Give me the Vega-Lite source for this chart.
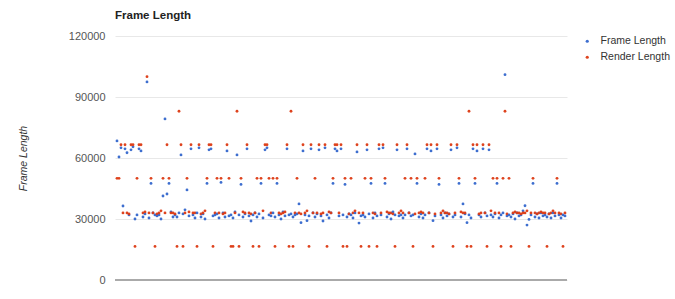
{
"$schema":"https://vega.github.io/schema/vega-lite/v6.json",
"width":452,"height":244,
"autosize":{"type":"none"},
"padding":{"left":115,"top":36,"right":108,"bottom":19},
"background":"white",
"config":{"view":{"stroke":null},"font":"Liberation Sans"},
"title":{"text":"Frame Length","anchor":"start","frame":"group","fontSize":11.5,"fontWeight":"bold","color":"#222","offset":9,"font":"Liberation Sans"},
"data":{"values":[
{"i":0,"Frame Length":68400,"Render Length":50000},
{"i":1,"Frame Length":60500,"Render Length":50000},
{"i":2,"Frame Length":65000,"Render Length":66500},
{"i":3,"Frame Length":36400,"Render Length":33000},
{"i":4,"Frame Length":64500,"Render Length":66500},
{"i":5,"Frame Length":62600,"Render Length":33000},
{"i":6,"Frame Length":32000,"Render Length":32500},
{"i":7,"Frame Length":64000,"Render Length":66500},
{"i":8,"Frame Length":65500,"Render Length":66500},
{"i":9,"Frame Length":30000,"Render Length":16500},
{"i":10,"Frame Length":32000,"Render Length":50000},
{"i":11,"Frame Length":64500,"Render Length":66500},
{"i":12,"Frame Length":63500,"Render Length":66500},
{"i":13,"Frame Length":31000,"Render Length":33000},
{"i":14,"Frame Length":32500,"Render Length":33500},
{"i":15,"Frame Length":97400,"Render Length":100000},
{"i":16,"Frame Length":30500,"Render Length":33000},
{"i":17,"Frame Length":47500,"Render Length":50000},
{"i":18,"Frame Length":33000,"Render Length":33000},
{"i":19,"Frame Length":32000,"Render Length":16500},
{"i":20,"Frame Length":31500,"Render Length":32500},
{"i":21,"Frame Length":32000,"Render Length":33000},
{"i":22,"Frame Length":30000,"Render Length":34000},
{"i":23,"Frame Length":41300,"Render Length":50000},
{"i":24,"Frame Length":79200,"Render Length":33000},
{"i":25,"Frame Length":42300,"Render Length":66500},
{"i":26,"Frame Length":47500,"Render Length":50000},
{"i":27,"Frame Length":33500,"Render Length":33000},
{"i":28,"Frame Length":31000,"Render Length":33000},
{"i":29,"Frame Length":32000,"Render Length":32500},
{"i":30,"Frame Length":31000,"Render Length":16500},
{"i":31,"Frame Length":33000,"Render Length":83000},
{"i":32,"Frame Length":61500,"Render Length":66500},
{"i":33,"Frame Length":32500,"Render Length":16500},
{"i":34,"Frame Length":34500,"Render Length":33000},
{"i":35,"Frame Length":44300,"Render Length":50000},
{"i":36,"Frame Length":31500,"Render Length":33500},
{"i":37,"Frame Length":64500,"Render Length":66500},
{"i":38,"Frame Length":32000,"Render Length":33000},
{"i":39,"Frame Length":30500,"Render Length":33000},
{"i":40,"Frame Length":33000,"Render Length":16500},
{"i":41,"Frame Length":65000,"Render Length":66500},
{"i":42,"Frame Length":31000,"Render Length":32500},
{"i":43,"Frame Length":32500,"Render Length":33000},
{"i":44,"Frame Length":30000,"Render Length":34000},
{"i":45,"Frame Length":47500,"Render Length":50000},
{"i":46,"Frame Length":64000,"Render Length":66500},
{"i":47,"Frame Length":64500,"Render Length":66500},
{"i":48,"Frame Length":31500,"Render Length":16500},
{"i":49,"Frame Length":32000,"Render Length":33000},
{"i":50,"Frame Length":32500,"Render Length":50000},
{"i":51,"Frame Length":30500,"Render Length":33000},
{"i":52,"Frame Length":48000,"Render Length":50000},
{"i":53,"Frame Length":33000,"Render Length":32500},
{"i":54,"Frame Length":31000,"Render Length":33000},
{"i":55,"Frame Length":63500,"Render Length":66500},
{"i":56,"Frame Length":31500,"Render Length":50000},
{"i":57,"Frame Length":32000,"Render Length":16500},
{"i":58,"Frame Length":30500,"Render Length":16500},
{"i":59,"Frame Length":33500,"Render Length":33000},
{"i":60,"Frame Length":61500,"Render Length":83000},
{"i":61,"Frame Length":32000,"Render Length":16500},
{"i":62,"Frame Length":47000,"Render Length":50000},
{"i":63,"Frame Length":31000,"Render Length":33500},
{"i":64,"Frame Length":32500,"Render Length":33000},
{"i":65,"Frame Length":64500,"Render Length":66500},
{"i":66,"Frame Length":31500,"Render Length":33000},
{"i":67,"Frame Length":29000,"Render Length":32500},
{"i":68,"Frame Length":32000,"Render Length":16500},
{"i":69,"Frame Length":33000,"Render Length":33000},
{"i":70,"Frame Length":31000,"Render Length":50000},
{"i":71,"Frame Length":32500,"Render Length":16500},
{"i":72,"Frame Length":47500,"Render Length":50000},
{"i":73,"Frame Length":30500,"Render Length":34000},
{"i":74,"Frame Length":64000,"Render Length":66500},
{"i":75,"Frame Length":65000,"Render Length":66500},
{"i":76,"Frame Length":32000,"Render Length":50000},
{"i":77,"Frame Length":31500,"Render Length":33000},
{"i":78,"Frame Length":33000,"Render Length":50000},
{"i":79,"Frame Length":31000,"Render Length":16500},
{"i":80,"Frame Length":47500,"Render Length":50000},
{"i":81,"Frame Length":32000,"Render Length":33000},
{"i":82,"Frame Length":30000,"Render Length":32500},
{"i":83,"Frame Length":33500,"Render Length":33000},
{"i":84,"Frame Length":31500,"Render Length":33500},
{"i":85,"Frame Length":64500,"Render Length":66500},
{"i":86,"Frame Length":32000,"Render Length":16500},
{"i":87,"Frame Length":32500,"Render Length":83000},
{"i":88,"Frame Length":31000,"Render Length":16500},
{"i":89,"Frame Length":32000,"Render Length":33000},
{"i":90,"Frame Length":32500,"Render Length":50000},
{"i":91,"Frame Length":37400,"Render Length":33000},
{"i":92,"Frame Length":28200,"Render Length":32500},
{"i":93,"Frame Length":63500,"Render Length":66500},
{"i":94,"Frame Length":32000,"Render Length":33000},
{"i":95,"Frame Length":29200,"Render Length":34000},
{"i":96,"Frame Length":31500,"Render Length":16500},
{"i":97,"Frame Length":64500,"Render Length":66500},
{"i":98,"Frame Length":33000,"Render Length":33000},
{"i":99,"Frame Length":31000,"Render Length":50000},
{"i":100,"Frame Length":32500,"Render Length":33000},
{"i":101,"Frame Length":64000,"Render Length":66500},
{"i":102,"Frame Length":31500,"Render Length":32500},
{"i":103,"Frame Length":29000,"Render Length":33000},
{"i":104,"Frame Length":65000,"Render Length":66500},
{"i":105,"Frame Length":32000,"Render Length":16500},
{"i":106,"Frame Length":30500,"Render Length":33500},
{"i":107,"Frame Length":33000,"Render Length":33000},
{"i":108,"Frame Length":47500,"Render Length":50000},
{"i":109,"Frame Length":64500,"Render Length":66500},
{"i":110,"Frame Length":63500,"Render Length":66500},
{"i":111,"Frame Length":31500,"Render Length":33000},
{"i":112,"Frame Length":64500,"Render Length":66500},
{"i":113,"Frame Length":32000,"Render Length":16500},
{"i":114,"Frame Length":47000,"Render Length":50000},
{"i":115,"Frame Length":31000,"Render Length":16500},
{"i":116,"Frame Length":32500,"Render Length":32500},
{"i":117,"Frame Length":32000,"Render Length":50000},
{"i":118,"Frame Length":30500,"Render Length":33000},
{"i":119,"Frame Length":33000,"Render Length":34000},
{"i":120,"Frame Length":63000,"Render Length":66500},
{"i":121,"Frame Length":28000,"Render Length":33000},
{"i":122,"Frame Length":31500,"Render Length":16500},
{"i":123,"Frame Length":32000,"Render Length":33000},
{"i":124,"Frame Length":31000,"Render Length":50000},
{"i":125,"Frame Length":64000,"Render Length":66500},
{"i":126,"Frame Length":32500,"Render Length":16500},
{"i":127,"Frame Length":47500,"Render Length":50000},
{"i":128,"Frame Length":30500,"Render Length":33000},
{"i":129,"Frame Length":33000,"Render Length":32500},
{"i":130,"Frame Length":31500,"Render Length":16500},
{"i":131,"Frame Length":64500,"Render Length":66500},
{"i":132,"Frame Length":32000,"Render Length":33000},
{"i":133,"Frame Length":65000,"Render Length":66500},
{"i":134,"Frame Length":47500,"Render Length":50000},
{"i":135,"Frame Length":31000,"Render Length":33500},
{"i":136,"Frame Length":32500,"Render Length":33000},
{"i":137,"Frame Length":30000,"Render Length":33000},
{"i":138,"Frame Length":33500,"Render Length":32500},
{"i":139,"Frame Length":32000,"Render Length":16500},
{"i":140,"Frame Length":64000,"Render Length":66500},
{"i":141,"Frame Length":31500,"Render Length":33000},
{"i":142,"Frame Length":32000,"Render Length":34000},
{"i":143,"Frame Length":30500,"Render Length":33000},
{"i":144,"Frame Length":32000,"Render Length":50000},
{"i":145,"Frame Length":64500,"Render Length":66500},
{"i":146,"Frame Length":33000,"Render Length":33000},
{"i":147,"Frame Length":31500,"Render Length":50000},
{"i":148,"Frame Length":32000,"Render Length":16500},
{"i":149,"Frame Length":62000,"Render Length":32500},
{"i":150,"Frame Length":47500,"Render Length":50000},
{"i":151,"Frame Length":31000,"Render Length":33000},
{"i":152,"Frame Length":32500,"Render Length":33500},
{"i":153,"Frame Length":30500,"Render Length":33000},
{"i":154,"Frame Length":32000,"Render Length":50000},
{"i":155,"Frame Length":64500,"Render Length":66500},
{"i":156,"Frame Length":33000,"Render Length":33000},
{"i":157,"Frame Length":63500,"Render Length":66500},
{"i":158,"Frame Length":29200,"Render Length":16500},
{"i":159,"Frame Length":31500,"Render Length":32500},
{"i":160,"Frame Length":64500,"Render Length":66500},
{"i":161,"Frame Length":47000,"Render Length":50000},
{"i":162,"Frame Length":32000,"Render Length":33000},
{"i":163,"Frame Length":30500,"Render Length":34000},
{"i":164,"Frame Length":33000,"Render Length":33000},
{"i":165,"Frame Length":31500,"Render Length":33000},
{"i":166,"Frame Length":32500,"Render Length":32500},
{"i":167,"Frame Length":64000,"Render Length":66500},
{"i":168,"Frame Length":31000,"Render Length":16500},
{"i":169,"Frame Length":32000,"Render Length":33000},
{"i":170,"Frame Length":65000,"Render Length":66500},
{"i":171,"Frame Length":47500,"Render Length":50000},
{"i":172,"Frame Length":31000,"Render Length":33500},
{"i":173,"Frame Length":37400,"Render Length":33000},
{"i":174,"Frame Length":32500,"Render Length":33000},
{"i":175,"Frame Length":28200,"Render Length":16500},
{"i":176,"Frame Length":32000,"Render Length":83000},
{"i":177,"Frame Length":30500,"Render Length":16500},
{"i":178,"Frame Length":64500,"Render Length":66500},
{"i":179,"Frame Length":47500,"Render Length":50000},
{"i":180,"Frame Length":63500,"Render Length":66500},
{"i":181,"Frame Length":32000,"Render Length":32500},
{"i":182,"Frame Length":31000,"Render Length":33000},
{"i":183,"Frame Length":64500,"Render Length":66500},
{"i":184,"Frame Length":33000,"Render Length":33000},
{"i":185,"Frame Length":31500,"Render Length":16500},
{"i":186,"Frame Length":64000,"Render Length":66500},
{"i":187,"Frame Length":32000,"Render Length":34000},
{"i":188,"Frame Length":31000,"Render Length":50000},
{"i":189,"Frame Length":32500,"Render Length":33000},
{"i":190,"Frame Length":47500,"Render Length":50000},
{"i":191,"Frame Length":30500,"Render Length":33000},
{"i":192,"Frame Length":32000,"Render Length":16500},
{"i":193,"Frame Length":33000,"Render Length":50000},
{"i":194,"Frame Length":101000,"Render Length":83000},
{"i":195,"Frame Length":31500,"Render Length":32500},
{"i":196,"Frame Length":32000,"Render Length":50000},
{"i":197,"Frame Length":31000,"Render Length":16500},
{"i":198,"Frame Length":32500,"Render Length":33000},
{"i":199,"Frame Length":30000,"Render Length":33500},
{"i":200,"Frame Length":33000,"Render Length":33000},
{"i":201,"Frame Length":31500,"Render Length":33000},
{"i":202,"Frame Length":32000,"Render Length":32500},
{"i":203,"Frame Length":34000,"Render Length":33000},
{"i":204,"Frame Length":36500,"Render Length":33000},
{"i":205,"Frame Length":27000,"Render Length":34000},
{"i":206,"Frame Length":29800,"Render Length":16500},
{"i":207,"Frame Length":32000,"Render Length":33000},
{"i":208,"Frame Length":47500,"Render Length":50000},
{"i":209,"Frame Length":31000,"Render Length":33000},
{"i":210,"Frame Length":32500,"Render Length":32500},
{"i":211,"Frame Length":30500,"Render Length":33000},
{"i":212,"Frame Length":33000,"Render Length":33500},
{"i":213,"Frame Length":31500,"Render Length":33000},
{"i":214,"Frame Length":32000,"Render Length":33000},
{"i":215,"Frame Length":31000,"Render Length":16500},
{"i":216,"Frame Length":32500,"Render Length":32500},
{"i":217,"Frame Length":30500,"Render Length":33000},
{"i":218,"Frame Length":33000,"Render Length":34000},
{"i":219,"Frame Length":31500,"Render Length":33000},
{"i":220,"Frame Length":47500,"Render Length":50000},
{"i":221,"Frame Length":32000,"Render Length":33000},
{"i":222,"Frame Length":30500,"Render Length":32500},
{"i":223,"Frame Length":32000,"Render Length":16500},
{"i":224,"Frame Length":31500,"Render Length":33000}
]},
"layer":[
{"data":{"values":[{"base":0}]},
 "mark":{"type":"rule","color":"#aaaaaa","strokeWidth":2},
 "encoding":{"y":{"field":"base","type":"quantitative"}}},
{"transform":[{"fold":["Frame Length","Render Length"],"as":["series","value"]}],
 "mark":{"type":"point","filled":true,"size":8,"opacity":0.95},
 "encoding":{
  "x":{"field":"i","type":"quantitative","scale":{"domain":[-1,225],"nice":false,"zero":false},"axis":null},
  "y":{"field":"value","type":"quantitative","scale":{"domain":[0,120000],"nice":false},
       "axis":{"values":[0,30000,60000,90000,120000],"format":"d","ticks":false,"domain":false,
               "labelFontSize":11,"labelColor":"#555","labelPadding":10,"gridColor":"#e8e8e8",
               "title":"Frame Length","titleFontStyle":"italic","titleFontWeight":"normal","titleFontSize":10.5,
               "titleColor":"#333","titleX":-92,"titleY":122,"titleAngle":270,"titleAlign":"center","titleBaseline":"middle"}},
  "color":{"field":"series","type":"nominal",
           "scale":{"domain":["Frame Length","Render Length"],"range":["#3366cc","#dc3912"]},
           "legend":{"orient":"none","legendX":467,"legendY":0,"title":null,"symbolType":"circle","symbolSize":10,
                     "labelFontSize":10.5,"labelColor":"#333","labelOffset":8,"rowPadding":5,"labelLimit":200}}
 }}
]
}
